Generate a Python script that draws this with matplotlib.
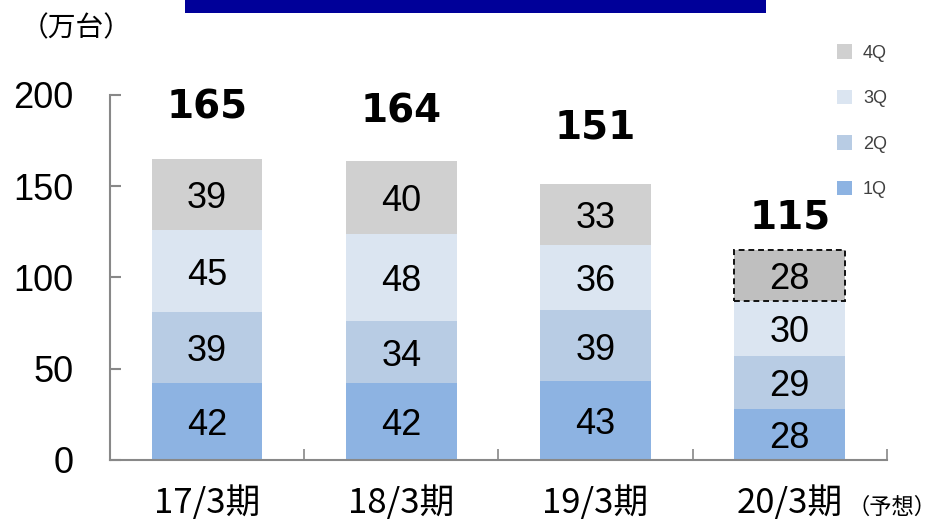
import matplotlib.pyplot as plt
from matplotlib.patches import Patch, Rectangle

periods = ["17/3期", "18/3期", "19/3期", "20/3期"]
q1 = [42, 42, 43, 28]
q2 = [39, 34, 39, 29]
q3 = [45, 48, 36, 30]
q4 = [39, 40, 33, 28]
totals = [165, 164, 151, 115]
quarters = ["1Q", "2Q", "3Q", "4Q"]

colors = ["#8DB3E2", "#B8CCE4", "#DBE5F1", "#D0D0D0"]
forecast_q4 = "#BFBFBF"
total_offsets = [28, 27, 31, 18]

plt.rcParams['font.family'] = ['Liberation Sans', 'Noto Sans CJK JP', 'DejaVu Sans']

fig = plt.figure(figsize=(9.36, 5.23), dpi=100)
ax = fig.add_axes([0.1175, 0.1205, 0.83, 0.698])

x = list(range(len(periods)))
bottom = [0] * len(periods)
w = 0.57
for i, vals in enumerate([q1, q2, q3, q4]):
    bars = ax.bar(x, vals, width=w, bottom=bottom, color=colors[i], linewidth=0)
    for j, (b, v) in enumerate(zip(bars, vals)):
        if i == 3 and j == 3:
            b.set_facecolor(forecast_q4)
            b.set_edgecolor("#111111")
            b.set_linestyle((0, (3, 2)))
            b.set_linewidth(1.4)
        ax.annotate(str(v), (b.get_x() + b.get_width() / 2, bottom[j] + v / 2),
                    xytext=(0, -3), textcoords="offset points",
                    ha="center", va="center", fontsize=26, color="black")
    bottom = [bt + v for bt, v in zip(bottom, vals)]

for j, t in enumerate(totals):
    ax.text(j, t + total_offsets[j], str(t), ha="center", va="center",
            fontsize=28, fontweight="bold", family="DejaVu Sans")

ax.set_xlim(-0.5, 3.5)
ax.set_ylim(0, 200)
ax.set_yticks([0, 50, 100, 150, 200])
ax.tick_params(axis="y", direction="in", length=8, width=1.5, color="#888888",
               labelsize=26, pad=26)
ax.set_xticks(x)
ax.set_xticklabels(periods, family=['Noto Sans CJK JP'], fontsize=25)
ax.tick_params(axis="x", which="major", length=0, pad=19)
ax.set_xticks([0.5, 1.5, 2.5, 3.5], minor=True)
ax.tick_params(axis="x", which="minor", direction="in", length=8, width=1.2,
               color="#888888")

for s in ["top", "right"]:
    ax.spines[s].set_visible(False)
for s in ["left", "bottom"]:
    ax.spines[s].set_color("#888888")
    ax.spines[s].set_linewidth(1.5)

ax.text(3.295, -0.13, "（予想）", transform=ax.get_xaxis_transform(),
        ha="left", va="center", fontsize=16, family=['Noto Sans CJK JP'])
fig.text(0.022, 0.945, "（万台）", ha="left", va="center", fontsize=20,
         family=['Noto Sans CJK JP'])

fig.patches.append(Rectangle((0.198, 0.975), 0.62, 0.03, transform=fig.transFigure,
                             facecolor="#000099", edgecolor="none"))

handles = [Patch(facecolor=colors[k], label=quarters[k]) for k in [3, 2, 1, 0]]
fig.legend(handles=handles, loc="upper left", bbox_to_anchor=(0.894, 0.915),
           frameon=False, fontsize=13, handlelength=0.85, handleheight=0.85,
           handletextpad=0.6, labelspacing=1.55, labelcolor="#404040",
           borderpad=0, borderaxespad=0)

fig.savefig("out.png", dpi=100)
